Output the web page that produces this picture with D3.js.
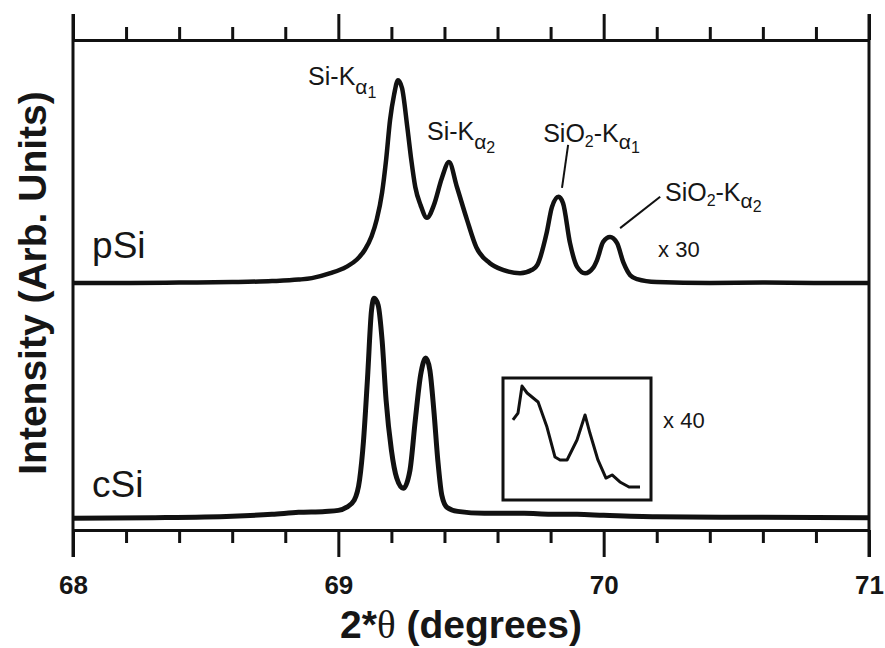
<!DOCTYPE html>
<html>
<head>
<meta charset="utf-8">
<script src="https://cdn.jsdelivr.net/npm/d3@7"></script>
<style>
body { margin: 0; background: #fff; }
text { font-family: "Liberation Sans", Arial, sans-serif; fill: #161616; }
</style>
</head>
<body>
<div id="chart"></div>
<script>
// pSi scan: 2theta (deg) and intensity above its own baseline
var pSiAngle = [68.00, 68.20, 68.40, 68.60, 68.75, 68.85, 68.90, 68.97, 69.03, 69.07,
    69.10, 69.125, 69.145, 69.165, 69.18, 69.195, 69.21, 69.225, 69.24, 69.26, 69.275,
    69.29, 69.31, 69.334, 69.36, 69.39, 69.417, 69.447, 69.485, 69.52, 69.57,
    69.62, 69.685, 69.73, 69.75, 69.785, 69.805, 69.83, 69.847, 69.873, 69.90,
    69.93, 69.96, 69.975, 69.998, 70.024, 70.05, 70.075, 70.10, 70.126, 70.20,
    70.40, 70.60, 70.80, 71.00];
var pSiCounts = [0, 0, 0.1, 0.2, 0.4, 0.7, 1.0, 2.0, 3.3, 4.8,
    6.8, 9.5, 13.0, 18.5, 25.1, 33.3, 38.4, 41.4, 39.8, 31.8, 25.1,
    19.6, 15.9, 13.3, 15.9, 21.4, 24.7, 19.6, 12.9, 7.3, 4.1,
    2.7, 2.0, 2.7, 3.7, 10.2, 15.5, 17.6, 16.3, 8.2, 3.3,
    2.0, 3.1, 4.7, 8.4, 9.4, 8.2, 4.1, 1.6, 0.8, 0.2,
    0, 0.1, 0, 0];

// cSi scan
var cSiAngle = [68.00, 68.30, 68.60, 68.75, 68.85, 68.95, 69.00, 69.03, 69.06, 69.08,
    69.095, 69.11, 69.125, 69.135, 69.15, 69.165, 69.18, 69.20, 69.22, 69.245,
    69.27, 69.29, 69.31, 69.33, 69.345, 69.36, 69.375, 69.39, 69.41, 69.45,
    69.55, 69.70, 69.80, 69.90, 70.00, 70.20, 70.50, 71.00];
var cSiCounts = [0, 0.1, 0.4, 0.8, 1.2, 1.4, 1.6, 2.2, 3.7, 7.8,
    15.9, 28.6, 42.4, 44.9, 43.5, 36.3, 24.1, 13.9, 8.2, 6.1,
    9.8, 20.0, 29.2, 32.7, 30.2, 22.0, 11.8, 4.7, 2.2, 1.4,
    1.0, 1.0, 0.8, 0.8, 0.6, 0.3, 0.2, 0.1];

// cSi x 40 inset
var insetAngle = [69.647, 69.671, 69.690, 69.714, 69.766, 69.808, 69.846, 69.870, 69.903,
    69.950, 69.988, 70.011, 70.049, 70.087, 70.116, 70.153, 70.196, 70.248];
var insetCounts = [6.56, 7.13, 9.34, 8.77, 8.03, 5.98, 3.52, 3.28, 3.28,
    4.92, 6.97, 5.49, 3.28, 1.80, 2.05, 1.48, 1.07, 1.07];

var majorTicks = [68, 69, 70, 71];
var minorTicks = [68.2, 68.4, 68.6, 68.8, 69.2, 69.4, 69.6, 69.8, 70.2, 70.4, 70.6, 70.8];

var pSiOffset = 50.4, cSiOffset = 2.4;

var width = 885, height = 648;
var ink = "#111";

var svg = d3.select("#chart").append("svg")
    .attr("width", width)
    .attr("height", height);

var x = d3.scaleLinear().domain([68, 71]).range([73, 869]);
var y = d3.scaleLinear().domain([0, 100]).range([530, 40]);

// inset scales
var ix = d3.scaleLinear().domain([69.6, 70.3]).range([503, 651]);
var iy = d3.scaleLinear().domain([0, 10]).range([500, 378]);

function styleAxis(g) {
    g.select(".domain").attr("stroke", ink).attr("stroke-width", 3);
    g.selectAll(".tick line").attr("stroke", ink).attr("stroke-width", 3);
}

// top axis (ticks pointing up)
svg.append("g")
    .attr("transform", "translate(0," + y(100) + ")")
    .call(d3.axisTop(x).tickValues(minorTicks).tickSize(13).tickSizeOuter(0).tickFormat(""))
    .call(styleAxis);
svg.append("g")
    .attr("transform", "translate(0," + y(100) + ")")
    .call(d3.axisTop(x).tickValues(majorTicks).tickSize(26).tickSizeOuter(0).tickFormat(""))
    .call(styleAxis);

// bottom axis
svg.append("g")
    .attr("transform", "translate(0," + y(0) + ")")
    .call(d3.axisBottom(x).tickValues(minorTicks).tickSize(13).tickSizeOuter(0).tickFormat(""))
    .call(styleAxis);
var bottom = svg.append("g")
    .attr("transform", "translate(0," + y(0) + ")")
    .call(d3.axisBottom(x).tickValues(majorTicks).tickSize(27).tickSizeOuter(0).tickPadding(19)
        .tickFormat(d3.format("d")))
    .call(styleAxis);
bottom.selectAll(".tick text")
    .style("font-family", '"Liberation Sans", Arial, sans-serif')
    .style("font-size", "26px")
    .style("font-weight", "bold")
    .attr("fill", "#161616");

// side frame lines
svg.selectAll(".side")
    .data([68, 71])
    .enter().append("line")
    .attr("x1", function(d) { return x(d); })
    .attr("x2", function(d) { return x(d); })
    .attr("y1", y(100) - 26)
    .attr("y2", y(0) + 27)
    .attr("stroke", ink)
    .attr("stroke-width", 3);

// spectra
var line = d3.line()
    .x(function(d) { return x(d[0]); })
    .y(function(d) { return y(d[1]); })
    .curve(d3.curveMonotoneX);

svg.append("path")
    .datum(pSiAngle.map(function(a, i) { return [a, pSiCounts[i] + pSiOffset]; }))
    .attr("d", line)
    .attr("fill", "none")
    .attr("stroke", ink)
    .attr("stroke-width", 4.5)
    .attr("stroke-linejoin", "round");

svg.append("path")
    .datum(cSiAngle.map(function(a, i) { return [a, cSiCounts[i] + cSiOffset]; }))
    .attr("d", line)
    .attr("fill", "none")
    .attr("stroke", ink)
    .attr("stroke-width", 5)
    .attr("stroke-linejoin", "round");

// inset
svg.append("rect")
    .attr("x", ix(69.6))
    .attr("y", iy(10))
    .attr("width", ix(70.3) - ix(69.6))
    .attr("height", iy(0) - iy(10))
    .attr("fill", "none")
    .attr("stroke", ink)
    .attr("stroke-width", 3);

svg.append("path")
    .datum(insetAngle.map(function(a, i) { return [a, insetCounts[i]]; }))
    .attr("d", d3.line()
        .x(function(d) { return ix(d[0]); })
        .y(function(d) { return iy(d[1]); }))
    .attr("fill", "none")
    .attr("stroke", ink)
    .attr("stroke-width", 3)
    .attr("stroke-linejoin", "round");

// peak labels: [text, size, dy] pieces
function label(px, py, parts) {
    var t = svg.append("text").attr("x", px).attr("y", py);
    parts.forEach(function(p) {
        t.append("tspan")
            .attr("dy", p[2] || 0)
            .style("font-size", p[1] + "px")
            .text(p[0]);
    });
    return t;
}

label(x(68.886), y(90.8), [["Si-K", 25], ["\u03b1", 21, 9], ["1", 16, 4]]);
label(x(69.334), y(79.6), [["Si-K", 25], ["\u03b1", 21, 9], ["2", 16, 4]]);
label(x(69.772), y(79.2), [["SiO", 25], ["2", 16, 5], ["-K", 25, -5], ["\u03b1", 21, 7], ["1", 16, 4]]);
label(x(70.231), y(67.1), [["SiO", 25], ["2", 16, 5], ["-K", 25, -5], ["\u03b1", 21, 7], ["2", 16, 4]]);

label(x(70.205), y(55.7), [["x 30", 22]]);
label(x(70.224), y(20.8), [["x 40", 22]]);

label(x(68.072), y(55.5), [["pSi", 37]]);
label(x(68.072), y(6.7), [["cSi", 37]]);

// leader lines
var leaders = [[69.866, 78.6, 69.843, 69.8], [70.213, 68.0, 70.062, 61.6]];
svg.selectAll(".leader")
    .data(leaders)
    .enter().append("line")
    .attr("x1", function(d) { return x(d[0]); })
    .attr("y1", function(d) { return y(d[1]); })
    .attr("x2", function(d) { return x(d[2]); })
    .attr("y2", function(d) { return y(d[3]); })
    .attr("stroke", ink)
    .attr("stroke-width", 2);

// axis titles
var xt = svg.append("text")
    .attr("x", (x(68) + x(71)) / 2 - 10)
    .attr("y", 638)
    .attr("text-anchor", "middle")
    .style("font-size", "39px")
    .style("font-weight", "bold");
xt.append("tspan").text("2*");
xt.append("tspan")
    .style("font-family", '"Liberation Serif", serif')
    .style("font-weight", "normal")
    .text("\u03b8");
xt.append("tspan").text(" (degrees)");

svg.append("text")
    .attr("transform", "translate(46,283) rotate(-90)")
    .attr("text-anchor", "middle")
    .style("font-size", "39px")
    .style("font-weight", "bold")
    .text("Intensity (Arb. Units)");
</script>
</body>
</html>
